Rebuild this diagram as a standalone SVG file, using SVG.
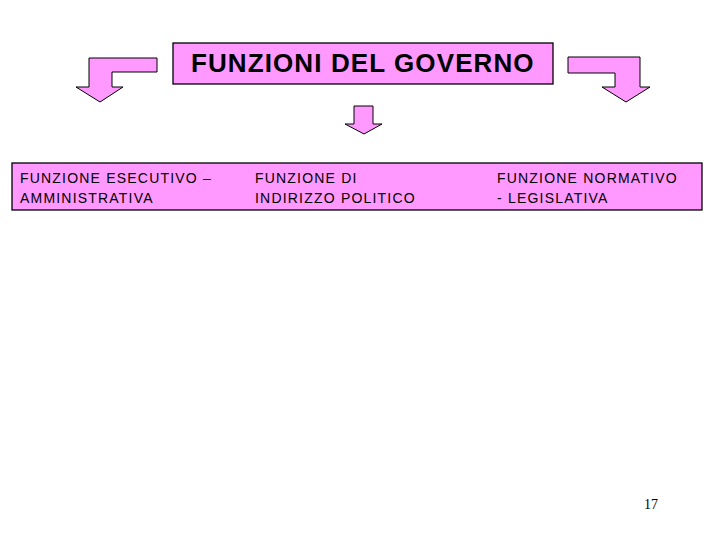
<svg xmlns="http://www.w3.org/2000/svg" width="720" height="540" viewBox="0 0 720 540">
<style>
.box{fill:#FF99FF;stroke:#000;stroke-width:1.3}
.arr{fill:#FF99FF;stroke:#000;stroke-width:1}
.t{font-family:"Liberation Sans",Arial,sans-serif;fill:#000}
.f{font-size:14px;letter-spacing:1.2px}
</style>
<rect width="720" height="540" fill="#fff"/>
<g id="title">
<rect class="box" x="173" y="43" width="380" height="41"/>
<text class="t" x="191" y="72" font-size="26" font-weight="bold" letter-spacing="1.1">FUNZIONI DEL GOVERNO</text>
</g>
<g id="connectors">
<path class="arr" d="M157,58 L89,58 L89,87 L76,87 L100,102 L123,87 L112,87 L112,72 L157,72 Z"/>
<path class="arr" d="M568,57 L640,57 L640,87 L650,87 L626,102 L602,87 L615,87 L615,73 L568,73 Z"/>
<path class="arr" d="M354,106 L373,106 L373,124 L382,124 L364,134 L345,124 L354,124 Z"/>
</g>
<g id="functions">
<rect class="box" x="12" y="163" width="690" height="47"/>
<text class="t f"><tspan x="20" y="183">FUNZIONE ESECUTIVO –</tspan><tspan x="20" y="203">AMMINISTRATIVA</tspan></text>
<text class="t f"><tspan x="255" y="183">FUNZIONE DI</tspan><tspan x="255" y="203">INDIRIZZO POLITICO</tspan></text>
<text class="t f"><tspan x="497" y="183">FUNZIONE NORMATIVO</tspan><tspan x="497" y="203">- LEGISLATIVA</tspan></text>
</g>
<text x="651" y="509" font-family="'Liberation Serif','Times New Roman',serif" font-size="14" text-anchor="middle" fill="#000">17</text>
</svg>
